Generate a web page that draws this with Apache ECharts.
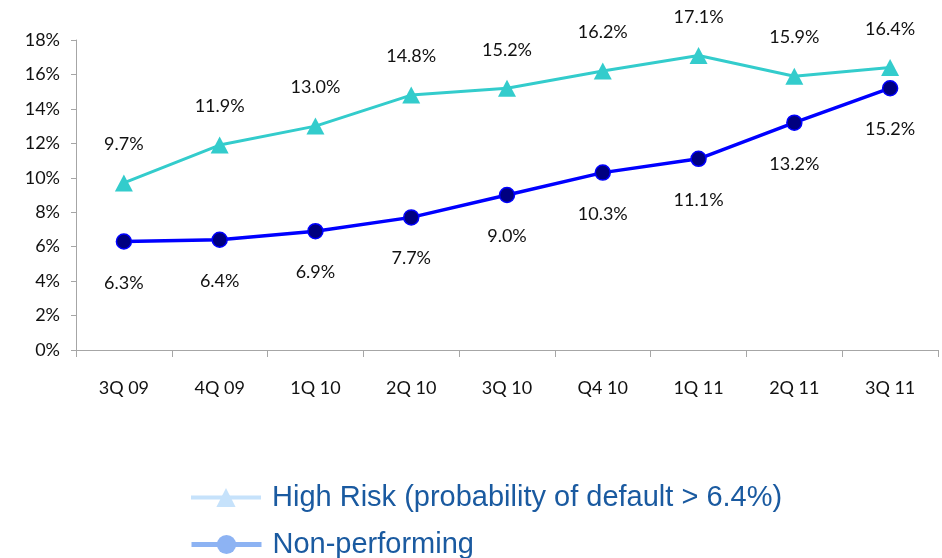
<!DOCTYPE html>
<html>
<head>
<meta charset="utf-8">
<script src="https://cdn.jsdelivr.net/npm/echarts@6/dist/echarts.min.js"></script>
<style>
  html, body { margin: 0; padding: 0; background: #fff; }
  #chart { width: 942px; height: 558px; }
</style>
</head>
<body>
<div id="chart"></div>
<script>
// Quarterly periods on the category axis
const quarters = ['3Q 09', '4Q 09', '1Q 10', '2Q 10', '3Q 10', 'Q4 10', '1Q 11', '2Q 11', '3Q 11'];
// Share of the portfolio, in percent
const highRisk = [9.7, 11.9, 13.0, 14.8, 15.2, 16.2, 17.1, 15.9, 16.4];
const nonPerforming = [6.3, 6.4, 6.9, 7.7, 9.0, 10.3, 11.1, 13.2, 15.2];
const seriesNames = ['High Risk (probability of default > 6.4%)', 'Non-performing'];

const labelFont = { fontFamily: 'Lato', fontSize: 18, color: '#111' };

const legendBase = {
  orient: 'horizontal',
  left: 184,
  itemWidth: 70,
  itemHeight: 24,
  itemGap: 0,
  textStyle: { fontFamily: 'Liberation Sans', fontSize: 29, color: '#1a5aa0', padding: [0, 0, 0, 6] }
};

const chart = echarts.init(document.getElementById('chart'), null, { renderer: 'canvas' });
chart.setOption({
  animation: false,
  grid: { left: 76, right: 4, top: 40, bottom: 208, containLabel: false },
  legend: [
    Object.assign({}, legendBase, {
      top: 478,
      data: [{ name: seriesNames[0],
        itemStyle: { color: '#c6e2fb' }, lineStyle: { color: '#c6e2fb', width: 4 } }]
    }),
    Object.assign({}, legendBase, {
      top: 525,
      data: [{ name: seriesNames[1],
        itemStyle: { color: '#8db3f3', borderWidth: 0 }, lineStyle: { color: '#8db3f3', width: 5 } }]
    })
  ],
  xAxis: {
    type: 'category',
    data: quarters,
    boundaryGap: true,
    axisLine: { lineStyle: { color: '#a6a6a6', width: 1 } },
    axisTick: { show: true, length: 7, lineStyle: { color: '#a6a6a6' } },
    axisLabel: Object.assign({ margin: 29 }, labelFont),
    splitLine: { show: false }
  },
  yAxis: {
    type: 'value',
    min: 0,
    max: 18,
    interval: 2,
    axisLine: { show: true, lineStyle: { color: '#a6a6a6', width: 1 } },
    axisTick: { show: true, length: 5, lineStyle: { color: '#a6a6a6' } },
    axisLabel: Object.assign({ margin: 16, formatter: v => v + '%' }, labelFont),
    splitLine: { show: false }
  },
  series: [
    {
      name: seriesNames[0],
      type: 'line',
      data: highRisk,
      symbol: 'triangle',
      symbolSize: [18, 17],
      lineStyle: { color: '#33cccc', width: 3 },
      itemStyle: { color: '#33cccc', borderWidth: 0 },
      label: {
        show: true, position: 'top', distance: 21,
        formatter: p => p.value.toFixed(1) + '%',
        fontFamily: labelFont.fontFamily, fontSize: labelFont.fontSize, color: labelFont.color
      },
      z: 2
    },
    {
      name: seriesNames[1],
      type: 'line',
      data: nonPerforming,
      symbol: 'circle',
      symbolSize: 15,
      lineStyle: { color: '#0000ff', width: 3.5 },
      itemStyle: { color: '#000080', borderColor: '#0000ff', borderWidth: 1.5 },
      label: {
        show: true, position: 'bottom', distance: 24,
        formatter: p => p.value.toFixed(1) + '%',
        fontFamily: labelFont.fontFamily, fontSize: labelFont.fontSize, color: labelFont.color
      },
      z: 3
    }
  ]
});
</script>
</body>
</html>
